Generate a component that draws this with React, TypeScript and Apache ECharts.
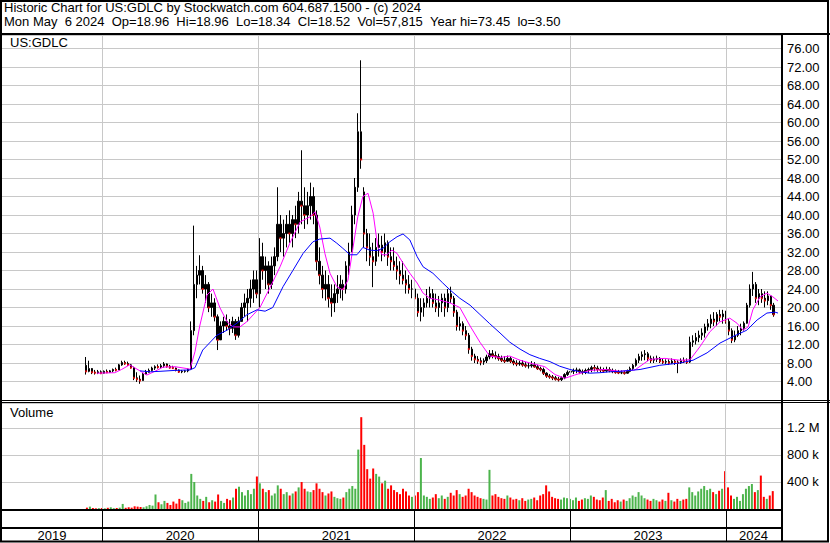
import React, { useEffect, useRef } from "react";
import * as echarts from "echarts";

// ---------- data (weekly bars) ----------
const firstWeek = "2019-11-25";

const opens = [
  7.5, 6.2, 6.8, 6.0, 5.9, 6.1, 5.8, 6.2, 6.0, 6.3,
  6.6, 6.5, 7.6, 8.1, 7.9, 7.6, 7.0, 4.8, 4.5, 4.2,
  5.6, 6.0, 6.4, 6.9, 7.2, 7.1, 7.4, 7.8, 7.3, 7.0,
  6.9, 6.5, 6.1, 6.2, 6.3, 6.7, 15, 25, 27, 28,
  24, 25, 20, 21, 18, 13, 16, 17, 16, 15.5,
  17, 14, 17, 20, 21, 22, 24, 26, 23, 31,
  28, 29, 25, 29, 31, 38, 35, 36, 38, 36,
  39, 38, 43, 42, 40, 42, 44, 40, 30, 27,
  24, 25, 22, 21, 23, 24, 25, 24, 29, 32,
  40, 46, 58, 45, 36, 33, 31, 30, 33, 33.5,
  32, 34, 31, 30, 29, 28, 27, 26, 25, 24,
  24, 22, 19, 20, 21, 22, 23, 21, 20, 21,
  22, 20, 23, 22, 19, 16, 16.5, 15, 14, 11,
  9.5, 8.8, 8.5, 8.2, 8.5, 9.3, 10, 9.6, 9.4, 9,
  8.6, 8.4, 9, 8.4, 8, 7.8, 8, 7.6, 7.4, 7.4,
  7.6, 7.2, 6.8, 6.6, 5.8, 5.2, 5, 4.8, 4.5, 4.4,
  4.8, 5.5, 6, 6.2, 6.4, 6.5, 6.1, 6, 6.4, 6.6,
  7, 6.9, 6.6, 6.5, 6.3, 6.6, 6.4, 6.2, 6, 5.9,
  5.9, 5.8, 6.2, 6.8, 7.5, 8.6, 9.4, 9.8, 10, 9,
  8.6, 8.8, 9, 8.4, 8.2, 8.3, 8, 8.4, 8.2, 8,
  8.5, 8.4, 8.2, 12.5, 12.8, 13.5, 14, 14.5, 15.8, 16.5,
  17.5, 17, 18.5, 18, 18.6, 17, 15, 13, 14, 15,
  15.5, 16.6, 20.5, 24, 25, 22, 23, 22, 21.5, 22.5,
  20.5,
];

const closes = [
  6.2, 6.8, 6.0, 5.9, 6.1, 5.8, 6.2, 6.0, 6.3, 6.6,
  6.5, 7.6, 8.1, 7.9, 7.6, 7.0, 4.8, 4.5, 4.2, 5.6,
  6.0, 6.4, 6.9, 7.2, 7.1, 7.4, 7.8, 7.3, 7.0, 6.9,
  6.5, 6.1, 6.2, 6.3, 6.7, 15, 25, 27, 28, 24,
  25, 20, 21, 18, 13, 16, 17, 16, 15.5, 17,
  14, 17, 20, 21, 22, 24, 26, 23, 31, 28,
  29, 25, 29, 31, 38, 35, 36, 38, 36, 39,
  38, 43, 42, 40, 42, 44, 40, 30, 27, 24,
  25, 22, 21, 23, 24, 25, 24, 29, 32, 40,
  46, 58, 52, 36, 33, 31, 30, 33, 33.5, 32,
  34, 31, 30, 29, 28, 27, 26, 25, 24, 24,
  22, 19, 20, 21, 22, 23, 21, 20, 21, 22,
  20, 23, 22, 19, 16, 16.5, 15, 14, 11, 9.5,
  8.8, 8.5, 8.2, 8.5, 9.3, 10, 9.6, 9.4, 9, 8.6,
  8.4, 9, 8.4, 8, 7.8, 8, 7.6, 7.4, 7.4, 7.6,
  7.2, 6.8, 6.6, 5.8, 5.2, 5, 4.8, 4.5, 4.4, 4.8,
  5.5, 6, 6.2, 6.4, 6.5, 6.1, 6, 6.4, 6.6, 7,
  6.9, 6.6, 6.5, 6.3, 6.6, 6.4, 6.2, 6, 5.9, 5.9,
  5.8, 6.2, 6.8, 7.5, 8.6, 9.4, 9.8, 10, 9, 8.6,
  8.8, 9, 8.4, 8.2, 8.3, 8, 8.4, 8.2, 8, 8.5,
  8.4, 8.2, 12.5, 12.8, 13.5, 14, 14.5, 15.8, 16.5, 17.5,
  17, 18.5, 18, 18.6, 17, 15, 13, 14, 15, 15.5,
  16.6, 20.5, 24, 25, 22, 23, 22, 21.5, 22.5, 20.5,
  18.5,
];

const highs = [
  9.3, 8.5, 6.9, 6.5, 6.5, 6.4, 6.4, 6.6, 6.5, 6.8,
  7.0, 7.8, 8.5, 8.5, 8.3, 7.8, 7.2, 6.0, 5.3, 5.8,
  6.5, 6.8, 7.2, 7.5, 7.7, 7.8, 8.2, 7.9, 7.6, 7.4,
  7.0, 6.6, 6.5, 6.5, 6.8, 17, 37.7, 29, 31.3, 29,
  27, 25.5, 23, 22, 18.5, 17, 18, 18.5, 17.5, 18,
  17.5, 18, 21, 23, 24, 26, 28, 28, 35, 34,
  31, 30, 31, 33, 46, 40, 39, 40, 41, 40,
  42, 45, 54, 46, 45, 47, 46, 41, 33, 29,
  28, 27, 25, 25, 27, 27, 26, 30, 34, 42,
  48, 62, 73.45, 46, 37, 36, 34, 35, 36, 35.5,
  36, 34.5, 33, 33, 31, 30, 30, 28, 27, 26,
  25, 23, 22, 22, 24, 24.5, 24, 23, 22.5, 23,
  23, 24, 24.5, 22.5, 19.5, 18, 17, 16, 14.5, 11.5,
  10, 9.5, 9.2, 9, 9.8, 10.8, 10.8, 10.5, 10, 9.6,
  9.5, 9.6, 9.4, 8.8, 8.6, 8.5, 8.6, 8.2, 8, 8.4,
  8.2, 7.6, 7.2, 7, 6, 5.6, 5.4, 5.2, 5, 5.1,
  5.8, 6.4, 6.6, 6.8, 7, 6.8, 6.6, 6.8, 7, 7.4,
  7.6, 7.4, 7.2, 7, 7.2, 7.1, 6.8, 6.6, 6.5, 6.4,
  6.3, 6.6, 7.2, 7.8, 9, 10, 10.5, 10.8, 10.4, 9.6,
  9.4, 9.6, 9.3, 9, 8.8, 8.8, 9, 8.8, 8.6, 9,
  9.2, 9, 13.7, 14, 14.5, 15, 15.5, 16.5, 17.5, 18.5,
  19, 19, 19.5, 19.5, 19.3, 17.5, 15.5, 15, 16, 16.5,
  17, 21, 25, 27.7, 25.5, 24, 24, 23.5, 23.5, 22.5,
  21,
];

const lows = [
  5.5, 6.0, 5.6, 5.5, 5.6, 5.6, 5.7, 5.8, 5.9, 6.0,
  6.2, 6.5, 7.4, 7.6, 7.4, 6.8, 4.3, 3.9, 3.5, 4.2,
  5.5, 5.9, 6.2, 6.5, 6.8, 6.8, 7.0, 7.0, 6.8, 6.7,
  6.2, 5.9, 5.8, 5.9, 6.0, 6.7, 14, 22, 25, 23,
  21, 19, 18, 17, 10.8, 13, 14.5, 15, 14, 14.5,
  13, 13.5, 17, 18, 17, 20, 21, 22, 20, 26,
  24, 23, 24, 27, 30, 32, 31, 33, 34, 33,
  35, 36, 38, 37, 38, 39, 38, 28, 25, 22,
  21.5, 20, 18, 19, 21, 22, 21.5, 23, 27, 32,
  38, 45, 50, 33, 30, 29, 24.4, 29, 31, 30,
  31, 29, 28, 28, 26, 25, 25, 23, 23, 22,
  21, 18, 17, 18, 20, 20, 20, 19, 18, 19,
  18, 19, 21, 18, 15, 15, 14, 13, 10, 8.5,
  8, 7.8, 7.5, 7.6, 8, 8.8, 9, 8.8, 8.5, 8.2,
  8, 8.2, 8, 7.5, 7.3, 7.4, 7.2, 7, 6.8, 7,
  7, 6.5, 6.2, 5.4, 4.8, 4.6, 4.3, 4.2, 4, 4.1,
  4.5, 5.2, 5.5, 5.6, 5.8, 5.6, 5.5, 5.6, 5.8, 6,
  6.2, 6.1, 6, 5.9, 6, 6, 5.8, 5.7, 5.6, 5.6,
  5.5, 5.7, 6, 6.5, 7.2, 8, 8.5, 8.6, 8.4, 8,
  8, 8.2, 8, 7.8, 7.8, 7.6, 7.8, 7.6, 5.8, 7.8,
  8, 7.8, 8, 11.5, 12, 12.5, 13, 13.5, 15, 15.5,
  16, 16, 17, 16.5, 16.5, 14, 12.3, 12.5, 13.6, 14,
  15, 16.5, 20, 22.5, 21, 20.5, 21, 20, 20.5, 19.5,
  18,
];

// weekly volume, thousands of shares
const volumes = [
  20, 35, 15, 10, 12, 15, 10, 18, 25, 12,
  15, 20, 75, 18, 25, 20, 40, 35, 30, 25,
  40, 60, 50, 215, 100, 70, 120, 90, 60, 110,
  80, 150, 130, 90, 110, 520, 400, 200, 150, 120,
  180, 100, 130, 110, 215, 120, 90, 150, 130, 170,
  300, 330, 250, 200, 280, 220, 300, 480, 380, 300,
  250, 280, 200, 230, 350, 300, 220, 250, 200, 230,
  260, 320, 400, 300, 260, 250, 280, 380, 300, 250,
  200, 230, 260, 180, 160, 150, 170, 250, 300, 340,
  300, 880, 1360, 950, 590, 450, 600, 520, 480, 380,
  420, 300, 350, 280, 250, 220, 300, 260, 200, 180,
  200, 250, 755, 200, 180, 150, 170, 220, 160, 200,
  150, 180, 240, 200, 280, 220, 180, 200, 300, 250,
  200, 180, 160, 150, 140, 580, 200, 220, 180, 160,
  150, 200, 170, 140, 150, 130, 160, 120, 140, 150,
  170, 130, 200, 220, 350, 260, 180, 160, 150, 140,
  170, 160, 150, 130, 170, 120, 140, 160, 150, 200,
  180, 140, 130, 170, 280, 120, 150, 100, 130, 110,
  140, 120, 160, 200, 180, 250, 200, 160, 140, 120,
  150, 130, 110, 140, 120, 240, 130, 110, 150, 120,
  140, 150, 320, 250, 200, 260, 300, 340, 280, 300,
  250, 220, 270, 300, 560, 320, 200, 150, 180, 120,
  220, 300, 340, 370, 250, 280, 495, 180, 150, 200,
  265,
];

// moving averages
const shortMA: [string, number][] = [
  ["2019-12-20", 5.8], ["2020-01-31", 5.9], ["2020-02-16", 6.6], ["2020-03-06", 7.6],
  ["2020-03-30", 6.3], ["2020-04-15", 5.4], ["2020-05-04", 6.2], ["2020-05-23", 7.1],
  ["2020-06-20", 7.2], ["2020-07-18", 6.8], ["2020-07-25", 6.6], ["2020-08-06", 10.5],
  ["2020-08-17", 16], ["2020-09-03", 22.7], ["2020-09-17", 24], ["2020-10-03", 20],
  ["2020-10-20", 16.9], ["2020-11-03", 15.8], ["2020-11-19", 15.8], ["2020-12-05", 16.9],
  ["2020-12-20", 18.4], ["2021-01-05", 20], ["2021-01-28", 24.2], ["2021-02-21", 28.8],
  ["2021-03-16", 33.9], ["2021-04-09", 38.5], ["2021-05-02", 39.6], ["2021-05-14", 40.7],
  ["2021-05-25", 37.4], ["2021-06-06", 31.7], ["2021-06-18", 27.4], ["2021-07-04", 24.5],
  ["2021-07-18", 23.8], ["2021-07-30", 25.9], ["2021-08-11", 33], ["2021-08-22", 39.6],
  ["2021-09-03", 44], ["2021-09-15", 44.7], ["2021-09-27", 40.4], ["2021-10-08", 33],
  ["2021-10-18", 31.4], ["2021-10-29", 31.4], ["2021-11-10", 32.4], ["2021-11-22", 31.7],
  ["2021-12-06", 29.6], ["2021-12-22", 27.4], ["2022-01-08", 25.3], ["2022-01-22", 23.1],
  ["2022-02-07", 22], ["2022-03-02", 21.6], ["2022-03-26", 21], ["2022-04-18", 20],
  ["2022-05-12", 16], ["2022-06-04", 12.5], ["2022-06-27", 9.5], ["2022-07-21", 9.2],
  ["2022-08-13", 9.5], ["2022-09-06", 8.6], ["2022-09-29", 8], ["2022-11-03", 7.2],
  ["2022-11-27", 5.5], ["2022-12-20", 4.7], ["2023-01-12", 5.4], ["2023-02-17", 6.4],
  ["2023-03-24", 6.6], ["2023-04-28", 6.2], ["2023-06-02", 6.5], ["2023-07-07", 8.8],
  ["2023-08-11", 9], ["2023-09-15", 8.6], ["2023-10-09", 8.7], ["2023-11-01", 11.5],
  ["2023-11-24", 14.7], ["2023-12-18", 16.9], ["2024-01-10", 17.7], ["2024-01-27", 16.6],
  ["2024-02-10", 15.1], ["2024-02-22", 15.8], ["2024-03-04", 19.5], ["2024-03-21", 22.3],
  ["2024-04-06", 23.1], ["2024-04-20", 22.3], ["2024-05-02", 21.4],
];

const longMA: [string, number][] = [
  ["2020-03-30", 6.3], ["2020-04-23", 6.1], ["2020-05-16", 6.2], ["2020-06-20", 6.4],
  ["2020-07-25", 6.5], ["2020-08-06", 7.0], ["2020-08-24", 10.8], ["2020-09-26", 14],
  ["2020-10-20", 15.1], ["2020-11-12", 16.6], ["2020-12-05", 18.4], ["2020-12-29", 19.5],
  ["2021-01-17", 19.2], ["2021-02-04", 20], ["2021-02-28", 24.5], ["2021-03-23", 28],
  ["2021-04-16", 31.7], ["2021-05-09", 34.2], ["2021-05-25", 34.8], ["2021-06-18", 35],
  ["2021-07-04", 33.9], ["2021-07-18", 32.8], ["2021-08-04", 31.4], ["2021-08-20", 31.4],
  ["2021-09-03", 33], ["2021-09-19", 32.4], ["2021-10-06", 32.3], ["2021-10-20", 32.8],
  ["2021-11-05", 34.2], ["2021-11-22", 35.3], ["2021-12-06", 35.9], ["2021-12-22", 34.6],
  ["2022-01-08", 31], ["2022-01-22", 28.8], ["2022-02-14", 27.4], ["2022-03-09", 25.3],
  ["2022-03-26", 23.8], ["2022-04-18", 22], ["2022-05-12", 20.5], ["2022-06-04", 18.5],
  ["2022-06-27", 16.5], ["2022-07-21", 14.5], ["2022-08-13", 12.5], ["2022-09-06", 11],
  ["2022-09-29", 9.8], ["2022-10-22", 9], ["2022-11-15", 8.3], ["2022-12-08", 7.3],
  ["2023-01-01", 6.6], ["2023-01-24", 6.1], ["2023-02-17", 5.8], ["2023-03-12", 5.9],
  ["2023-04-04", 6.1], ["2023-04-28", 6.2], ["2023-06-14", 6.6], ["2023-07-30", 7.5],
  ["2023-09-15", 8.0], ["2023-10-16", 8.6], ["2023-11-18", 10.2], ["2023-12-18", 12.3],
  ["2024-01-17", 13.7], ["2024-02-19", 15.1], ["2024-03-14", 17.3], ["2024-04-06", 18.8],
  ["2024-04-25", 19], ["2024-05-02", 18.8],
];

const yearLabels = ["2019", "2020", "2021", "2022", "2023", "2024"];
const yearStarts = ["2020-01-01", "2021-01-01", "2022-01-01", "2023-01-01", "2024-01-01"];
const axisStart = "2019-05-12";
const axisEnd = "2024-05-09";

const titleLine1 = "Historic Chart for US:GDLC by Stockwatch.com 604.687.1500 - (c) 2024";
const titleLine2 =
  "Mon May  6 2024  Op=18.96  Hi=18.96  Lo=18.34  Cl=18.52  Vol=57,815  Year hi=73.45  lo=3.50";
const symbolName = "US:GDLC";
const volumeName = "Volume";

// ---------- helpers ----------
const FONT = 'Arial, "Liberation Sans", sans-serif';
const DAY = 86400000;
const ts = (s: string) => {
  const [y, m, d] = s.split("-").map(Number);
  return Date.UTC(y, m - 1, d);
};
const keepSpaces = (s: string) => s.replace(/  /g, " \u00a0");

export default function App() {
  const ref = useRef<HTMLDivElement>(null);

  useEffect(() => {
    const chart = echarts.init(ref.current!, null, { renderer: "svg" });
    const t0 = ts(firstWeek);
    const wk = (i: number) => t0 + i * 7 * DAY;
    const xMin = ts(axisStart);
    const xMax = ts(axisEnd);

    const candles = opens.map((o, i) => [wk(i), o, closes[i], lows[i], highs[i]]);
    const downMarks = opens
      .map((o, i) => (closes[i] < o ? [wk(i), closes[i]] : null))
      .filter((p) => p !== null);
    const volData = volumes.map((v, i) => ({
      value: [wk(i), v],
      itemStyle: { color: closes[i] >= opens[i] ? "#4cb44c" : "#ff0000" },
    }));

    const yearLineData = yearStarts.map((s) => ({ xAxis: ts(s) }));
    const bounds = [xMin, ...yearStarts.map(ts), xMax];
    const yearAreas = yearLabels.map((name, i) => [
      { xAxis: bounds[i], name },
      { xAxis: bounds[i + 1] },
    ]);

    const grayLines = {
      silent: true,
      symbol: ["none", "none"],
      label: { show: false },
      lineStyle: { color: "#c8c8c8", width: 1, type: "solid" },
      emphasis: { disabled: true },
      data: yearLineData,
    };

    const xBase = {
      type: "time",
      min: xMin,
      max: xMax,
      axisLine: { show: false },
      axisTick: { show: false },
      axisLabel: { show: false },
      splitLine: { show: false },
    };
    const labelStyle = { color: "#000", fontSize: 13, fontFamily: FONT, margin: 6 };

    const option: any = {
      animation: false,
      backgroundColor: "#fff",
      textStyle: { fontFamily: FONT },
      grid: [
        { left: 2, top: 35, width: 779, height: 365, outerBoundsMode: "none" },
        { left: 2, top: 403, width: 779, height: 106, outerBoundsMode: "none" },
        { left: 2, top: 511, width: 779, height: 30, outerBoundsMode: "none" },
      ],
      xAxis: [
        { ...xBase, gridIndex: 0 },
        { ...xBase, gridIndex: 1 },
        { ...xBase, gridIndex: 2 },
      ],
      yAxis: [
        {
          type: "value",
          gridIndex: 0,
          position: "right",
          min: 0,
          max: 365 / 4.625,
          interval: 4,
          axisLine: { show: false },
          axisTick: { show: false },
          axisLabel: {
            ...labelStyle,
            showMinLabel: false,
            showMaxLabel: false,
            formatter: (v: number) => v.toFixed(2),
          },
          splitLine: { lineStyle: { color: "#c8c8c8", width: 1 } },
        },
        {
          type: "value",
          gridIndex: 1,
          position: "right",
          min: 0,
          max: 1570,
          interval: 400,
          axisLine: { show: false },
          axisTick: { show: false },
          axisLabel: {
            ...labelStyle,
            showMinLabel: false,
            showMaxLabel: false,
            formatter: (v: number) =>
              v >= 1000 ? (v / 1000).toFixed(1) + " M" : v + " k",
          },
          splitLine: { lineStyle: { color: "#c8c8c8", width: 1 } },
        },
        { type: "value", gridIndex: 2, min: 0, max: 1, show: false },
      ],
      series: [
        {
          type: "candlestick",
          xAxisIndex: 0,
          yAxisIndex: 0,
          data: candles,
          barWidth: 2,
          itemStyle: {
            color: "#000",
            color0: "#000",
            borderColor: "#000",
            borderColor0: "#000",
            borderWidth: 1,
          },
          markLine: grayLines,
          z: 3,
        },
        {
          type: "scatter",
          xAxisIndex: 0,
          yAxisIndex: 0,
          data: downMarks,
          symbol: "rect",
          symbolSize: [2, 2],
          itemStyle: { color: "#ff0000" },
          z: 4,
          silent: true,
        },
        {
          type: "line",
          xAxisIndex: 0,
          yAxisIndex: 0,
          data: shortMA.map(([d, v]) => [ts(d), v]),
          showSymbol: false,
          lineStyle: { color: "#ff00ff", width: 1 },
          z: 5,
          silent: true,
        },
        {
          type: "line",
          xAxisIndex: 0,
          yAxisIndex: 0,
          data: longMA.map(([d, v]) => [ts(d), v]),
          showSymbol: false,
          lineStyle: { color: "#0000ff", width: 1 },
          z: 5,
          silent: true,
        },
        {
          type: "bar",
          xAxisIndex: 1,
          yAxisIndex: 1,
          data: volData,
          barWidth: 2,
          markLine: grayLines,
          silent: true,
        },
        {
          type: "line",
          xAxisIndex: 2,
          yAxisIndex: 2,
          data: [[xMin, 0.5]],
          showSymbol: false,
          lineStyle: { opacity: 0 },
          silent: true,
          markLine: {
            silent: true,
            symbol: ["none", "none"],
            label: { show: false },
            lineStyle: { color: "#000", width: 1, type: "solid" },
            emphasis: { disabled: true },
            data: yearLineData,
          },
          markArea: {
            silent: true,
            itemStyle: { color: "rgba(0,0,0,0)" },
            label: {
              show: true,
              position: "inside",
              offset: [0, 9],
              color: "#000",
              fontSize: 13,
              fontFamily: FONT,
            },
            data: yearAreas,
          },
        },
      ],
      graphic: [
        {
          type: "text",
          x: 4,
          y: 1,
          z: 100,
          style: { text: titleLine1, fontSize: 13, fontFamily: FONT, fill: "#000", verticalAlign: "top" },
        },
        {
          type: "text",
          x: 4,
          y: 15,
          z: 100,
          style: { text: keepSpaces(titleLine2), fontSize: 13, fontFamily: FONT, fill: "#000", verticalAlign: "top" },
        },
        {
          type: "text",
          x: 10,
          y: 36,
          z: 100,
          style: { text: symbolName, fontSize: 13, fontFamily: FONT, fill: "#000", verticalAlign: "top" },
        },
        {
          type: "text",
          x: 10,
          y: 406,
          z: 100,
          style: { text: volumeName, fontSize: 13, fontFamily: FONT, fill: "#000", verticalAlign: "top" },
        },
        { type: "line", z: 100, shape: { x1: 0, y1: 34, x2: 830, y2: 34 }, style: { stroke: "#000", lineWidth: 2 } },
        { type: "line", z: 100, shape: { x1: 0, y1: 400.5, x2: 830, y2: 400.5 }, style: { stroke: "#000", lineWidth: 1 } },
        { type: "line", z: 100, shape: { x1: 0, y1: 402.5, x2: 830, y2: 402.5 }, style: { stroke: "#000", lineWidth: 1 } },
        { type: "line", z: 100, shape: { x1: 0, y1: 510, x2: 782, y2: 510 }, style: { stroke: "#000", lineWidth: 2 } },
        { type: "line", z: 100, shape: { x1: 0, y1: 528, x2: 782, y2: 528 }, style: { stroke: "#000", lineWidth: 2 } },
        { type: "line", z: 100, shape: { x1: 782, y1: 34, x2: 782, y2: 542 }, style: { stroke: "#000", lineWidth: 2 } },
        {
          type: "rect",
          z: 100,
          shape: { x: 1, y: 1, width: 827, height: 540.5 },
          style: { fill: "none", stroke: "#000", lineWidth: 2 },
        },
      ],
    };

    chart.setOption(option);
    return () => chart.dispose();
  }, []);

  return (
    <div
      ref={ref}
      style={{ position: "absolute", left: 0, top: 0, width: 830, height: 543 }}
    />
  );
}
